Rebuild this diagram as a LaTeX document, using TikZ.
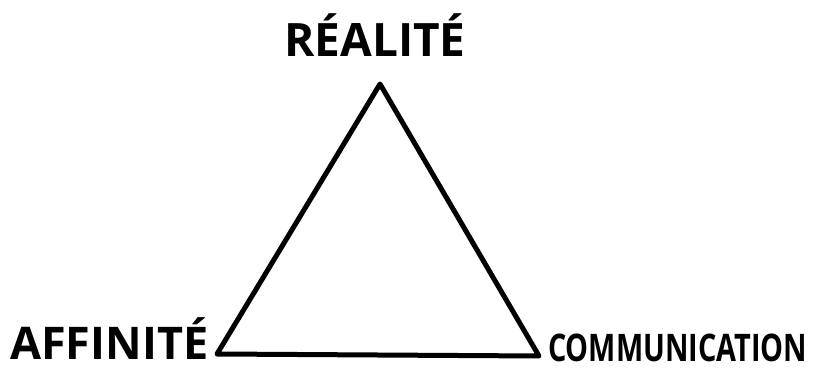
\documentclass[tikz,border=0pt]{standalone}
\usepackage{fontspec}
\setmainfont{Open Sans}
\begin{document}
\begin{tikzpicture}[x=1pt,y=1pt,
  lbl/.style={inner sep=0pt},
  edge/.style={line width=5pt, line join=round, line cap=round}]
\useasboundingbox (0,0) rectangle (818,367);
\coordinate (top) at (380,283);
\coordinate (bl) at (217,13);
\coordinate (br) at (539,11);
\draw[edge] (top) -- (bl) -- (br) -- cycle;
\node[lbl, anchor=base, font=\fontsize{46}{46}\selectfont\bfseries] (real) at (375,310) {RÉALITÉ};
\node[lbl, anchor=base west, font=\fontsize{45}{45}\selectfont\bfseries] (aff) at (10,8) {AFFINITÉ};
\node[lbl, anchor=base west, font=\fontsize{38}{38}\selectfont\bfseries, xscale=0.76] (comm) at (548,6) {COMMUNICATION};
\end{tikzpicture}
\end{document}
